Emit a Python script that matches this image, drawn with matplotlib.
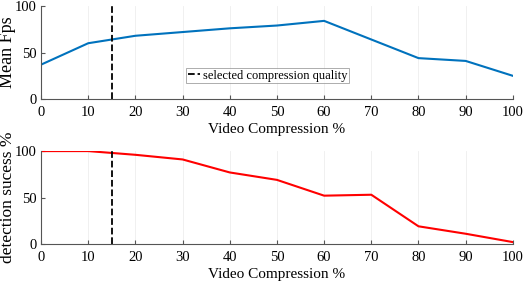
import matplotlib.pyplot as plt
import numpy as np

plt.rcParams['font.family'] = ['Liberation Serif', 'DejaVu Serif']

compression = [0, 10, 20, 30, 40, 50, 60, 70, 80, 90, 100]
meanFps = [37, 60, 68, 72, 76, 79, 84, 64, 44, 41, 25]
detectSuccess = [100, 100, 96, 91, 77, 69, 52, 53, 19, 11, 2]
selectedQuality = 15
xTicks = [0, 10, 20, 30, 40, 50, 60, 70, 80, 90, 100]
yTicks = [0, 50, 100]

fig = plt.figure(figsize=(5.26, 2.84), dpi=100)
axTop = fig.add_axes([0.078, 0.651, 0.897, 0.328])
axBot = fig.add_axes([0.078, 0.141, 0.897, 0.327])

def styleAxis(ax, ylabel, ysize):
    ax.set_xlim(0, 100)
    ax.set_ylim(0, 100)
    ax.set_xticks(xTicks)
    ax.set_yticks(yTicks)
    ax.tick_params(direction='in', length=3, labelsize=10.5, color='#555555')
    ax.tick_params(axis='x', pad=5)
    ax.tick_params(axis='y', pad=3)
    for side in ['top', 'right']:
        ax.spines[side].set_visible(False)
    for side in ['left', 'bottom']:
        ax.spines[side].set_color('#555555')
        ax.spines[side].set_linewidth(0.8)
    ax.grid(axis='x', color='#eeeeee', linewidth=0.6)
    ax.set_axisbelow(True)
    ax.set_xlabel('Video Compression %', fontsize=11, labelpad=3)
    ax.set_ylabel(ylabel, fontsize=ysize)
    ax.yaxis.set_label_coords(-0.052, 0.5)

axTop.plot(compression, meanFps, color='#0072BD', linewidth=1.5)
axTop.axvline(selectedQuality, color='black', linestyle='--', linewidth=1.3,
              label='selected compression quality')
styleAxis(axTop, 'Mean Fps', 13)
leg = axTop.legend(loc='center', bbox_to_anchor=(0.48, 0.253), fontsize=9,
                   frameon=True, fancybox=False, handlelength=1.0,
                   handletextpad=0.2, borderpad=0.15, borderaxespad=0)
leg.get_frame().set_edgecolor('#888888')
leg.get_frame().set_linewidth(0.6)

axBot.plot(compression, detectSuccess, color='#FF0000', linewidth=1.5)
axBot.axvline(selectedQuality, color='black', linestyle='--', linewidth=1.3)
styleAxis(axBot, 'detection sucess %', 12.5)

fig.savefig('out.png', dpi=100)
